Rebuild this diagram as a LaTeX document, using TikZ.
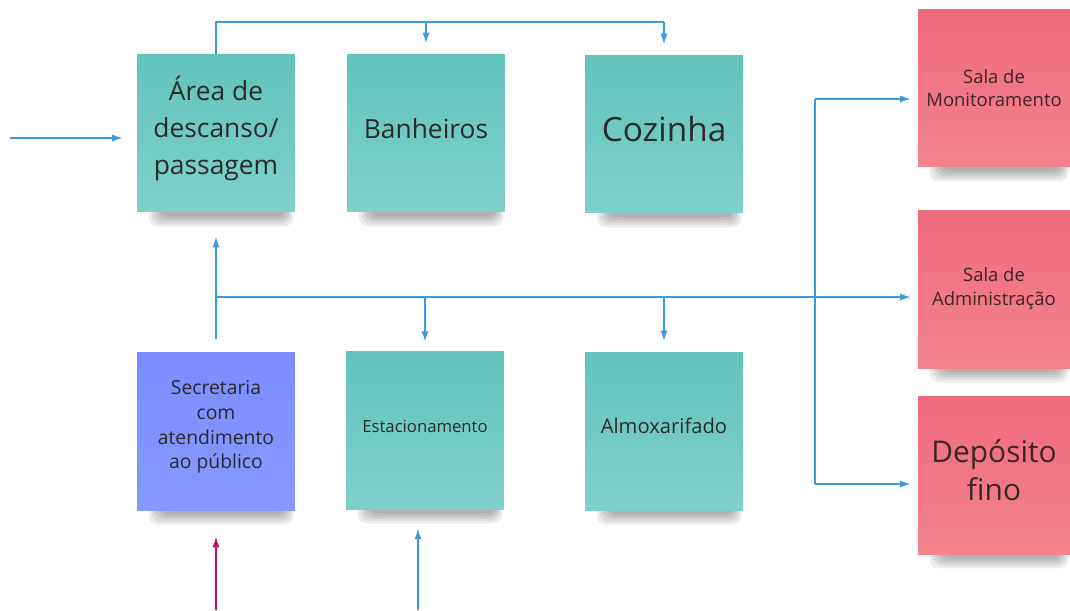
\documentclass[tikz,border=0pt]{standalone}
\usepackage{fontspec}
\setmainfont{Open Sans}
\usetikzlibrary{arrows.meta, backgrounds}

\definecolor{tealA}{HTML}{62C4BB}
\definecolor{tealB}{HTML}{7ED1C9}
\definecolor{roxoA}{HTML}{7B8DFF}
\definecolor{roxoB}{HTML}{8799FF}
\definecolor{rosaA}{HTML}{EE6A7E}
\definecolor{rosaB}{HTML}{F3838F}
\definecolor{azul}{HTML}{3C9AE0}
\definecolor{magenta}{HTML}{C8106A}
\definecolor{texto}{HTML}{2A2A2A}

\tikzset{
  nota/.style={minimum width=3.16cm, minimum height=3.16cm, inner sep=2pt,
    align=center, text=texto},
  notaverde/.style={nota, top color=tealA, bottom color=tealB},
  notaroxa/.style={nota, top color=roxoA, bottom color=roxoB},
  notarosa/.style={nota, minimum width=3.04cm, top color=rosaA, bottom color=rosaB, text=texto!90!red},
  linha/.style={draw=azul, line width=0.7pt},
  seta/.style={linha, -{Latex[length=6pt,width=4pt]}},
}

\begin{document}
\begin{tikzpicture}[x=0.02cm, y=-0.02cm, line join=round]
\useasboundingbox (0,0) rectangle (1070,610);

% notas de cima
\node[notaverde, text depth=9.2pt, font=\fontsize{15}{21}\selectfont] (area) at (216,133) {Área de\\descanso/\\passagem};
\node[notaverde, text depth=5.6pt, font=\fontsize{15}{21}\selectfont] (banheiros) at (426,133) {Banheiros};
\node[notaverde, text depth=5.6pt, font=\fontsize{19}{24}\selectfont] (cozinha) at (664,134) {Cozinha};

% notas de baixo
\node[notaroxa, text depth=7.2pt, font=\fontsize{11}{14}\selectfont] (secretaria) at (216,431) {Secretaria\\com\\atendimento\\ao público};
\node[notaverde, text depth=4.6pt, font=\fontsize{9.5}{12}\selectfont] (estacionamento) at (425,430) {Estacionamento};
\node[notaverde, text depth=5.7pt, font=\fontsize{11.5}{14}\selectfont] (almoxarifado) at (664,431) {Almoxarifado};

% notas da direita
\node[notarosa, font=\fontsize{10.5}{13.5}\selectfont] (monitoramento) at (994,88) {Sala de\\Monitoramento};
\node[notarosa, font=\fontsize{10.5}{13.5}\selectfont] (administracao) at (994,289) {Sala de\\Administração};
\node[notarosa, text depth=5.7pt, font=\fontsize{17}{21.5}\selectfont] (deposito) at (994,475) {Depósito\\fino};

% sombras
\begin{scope}[on background layer]
\foreach \n in {area,banheiros,cozinha,secretaria,estacionamento,almoxarifado,monitoramento,administracao,deposito}
  \foreach \k in {0,...,4}
    \fill[black, opacity=0.07, rounded corners=5pt]
      ([shift={(12+3*\k,-6)}]\n.south west) rectangle ([shift={(-2-2*\k,14-2.5*\k)}]\n.south east);
\end{scope}

% pontos soltos
\coordinate (entrada) at (10,138);
\coordinate (topo) at (216,22);
\coordinate (barra) at (216,297);
\coordinate (ramo) at (815,297);
\coordinate (pe1) at (216,610);
\coordinate (pe2) at (418,610);
\coordinate (r1) at (815,99);
\coordinate (r3) at (815,484);

% ligacoes de cima
\draw[linha] (area.north) -- (topo) -- (cozinha.north |- topo);
\draw[seta, shorten >=6pt] (banheiros.north |- topo) -- (banheiros.north);
\draw[seta, shorten >=6pt] (cozinha.north |- topo) -- (cozinha.north);
\draw[seta, shorten >=8pt] (entrada) -- (area.west |- entrada);

% barramento do meio
\draw[linha, shorten <=7pt] (secretaria.north) -- (barra) -- (ramo);
\draw[seta, shorten >=14pt] (barra) -- (area.south);
\draw[seta, line width=1pt, shorten >=5pt] (estacionamento.north |- barra) -- (estacionamento.north);
\draw[seta, shorten >=6pt] (almoxarifado.north |- barra) -- (almoxarifado.north);

% ramos da direita
\draw[linha] (r1) -- (r3);
\draw[seta, shorten >=4pt] (r1) -- (monitoramento.west |- r1);
\draw[seta, shorten >=4pt] (ramo) -- (administracao.west |- ramo);
\draw[seta, shorten >=4pt] (r3) -- (deposito.west |- r3);

% entradas de baixo
\draw[seta, draw=magenta, -{Latex[length=6pt,width=4pt,fill=magenta]}, shorten >=15pt] (pe1) -- (secretaria.south);
\draw[seta, shorten >=11pt] (pe2) -- (estacionamento.south -| pe2);
\end{tikzpicture}
\end{document}
